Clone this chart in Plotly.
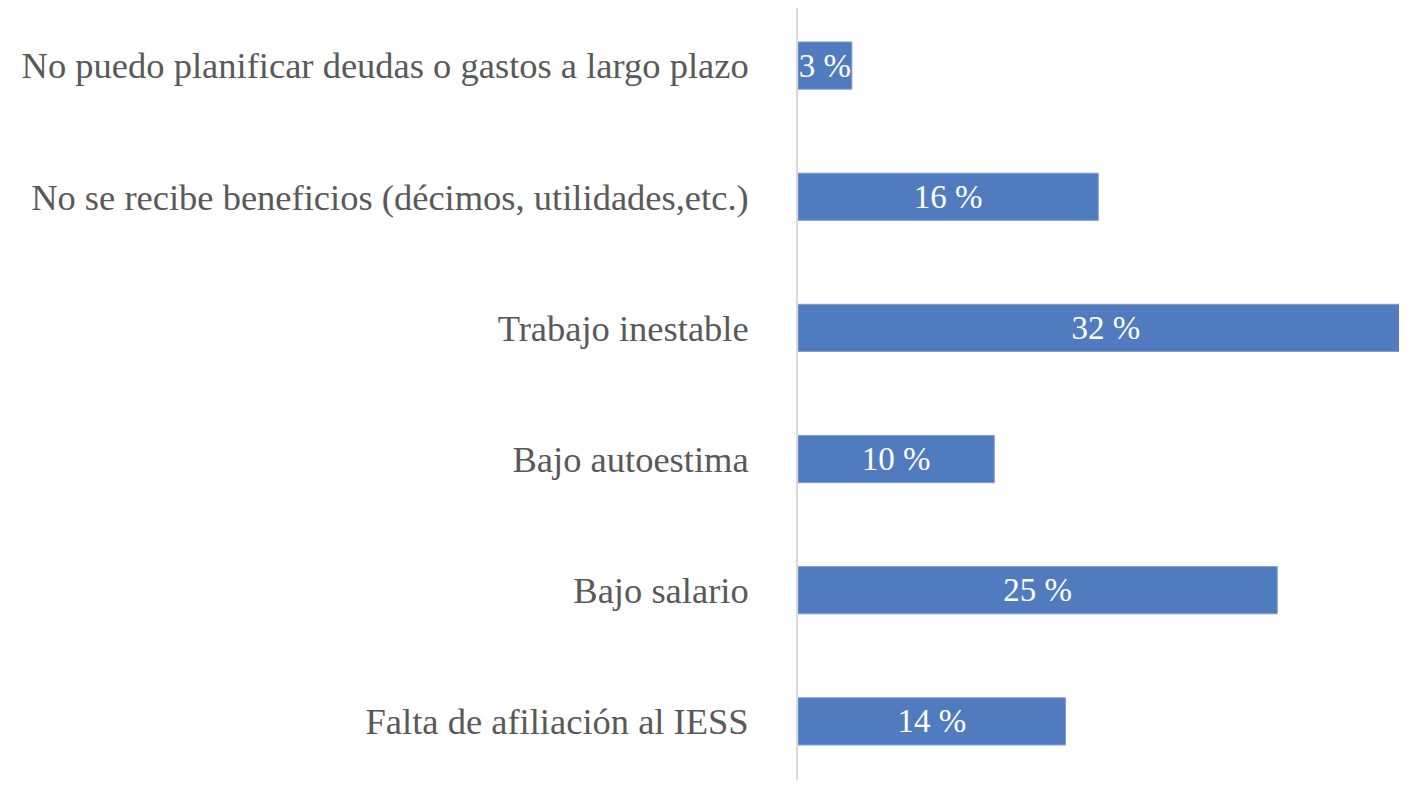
import plotly.graph_objects as go

# categories listed bottom to top (plotly puts the first one at the bottom)
categorias = [
    "Falta de afiliación al IESS",
    "Bajo salario",
    "Bajo autoestima",
    "Trabajo inestable",
    "No se recibe beneficios (décimos, utilidades,etc.)",
    "No puedo planificar deudas o gastos a largo plazo",
]
porcentajes = [13.9, 24.9, 10.2, 32.0, 15.6, 2.8]

AZUL = "#507cbf"
GRIS_TEXTO = "#595959"
FUENTE = "Liberation Serif"

fig = go.Figure()
fig.add_trace(go.Bar(
    x=porcentajes,
    y=categorias,
    orientation="h",
    marker=dict(color=AZUL, line=dict(color="#7f9fd3", width=1)),
    texttemplate="%{x:.0f} %",
    textposition="inside",
    insidetextanchor="middle",
    constraintext="none",
    textfont=dict(family=FUENTE, size=33, color="white"),
    hoverinfo="none",
    showlegend=False,
))

# the page body adds 8px around the figure, so keep it inside the window
fig.update_layout(
    width=1399,
    height=772,
    margin=dict(l=790, r=0, t=0, b=0, autoexpand=False),
    plot_bgcolor="white",
    paper_bgcolor="white",
    bargap=0.64,
    font=dict(family=FUENTE, color=GRIS_TEXTO),
)
fig.update_xaxes(
    range=[0, 31.64],
    visible=False,
    showgrid=False,
    zeroline=False,
)
fig.update_yaxes(
    range=[-0.447, 5.439],
    showline=True,
    linecolor="#d9d9d9",
    linewidth=2,
    showgrid=False,
    ticks="",
    ticklabelstandoff=40,
    tickfont=dict(family=FUENTE, size=36.5, color=GRIS_TEXTO),
    automargin=False,
)

fig.write_html("out.html")
